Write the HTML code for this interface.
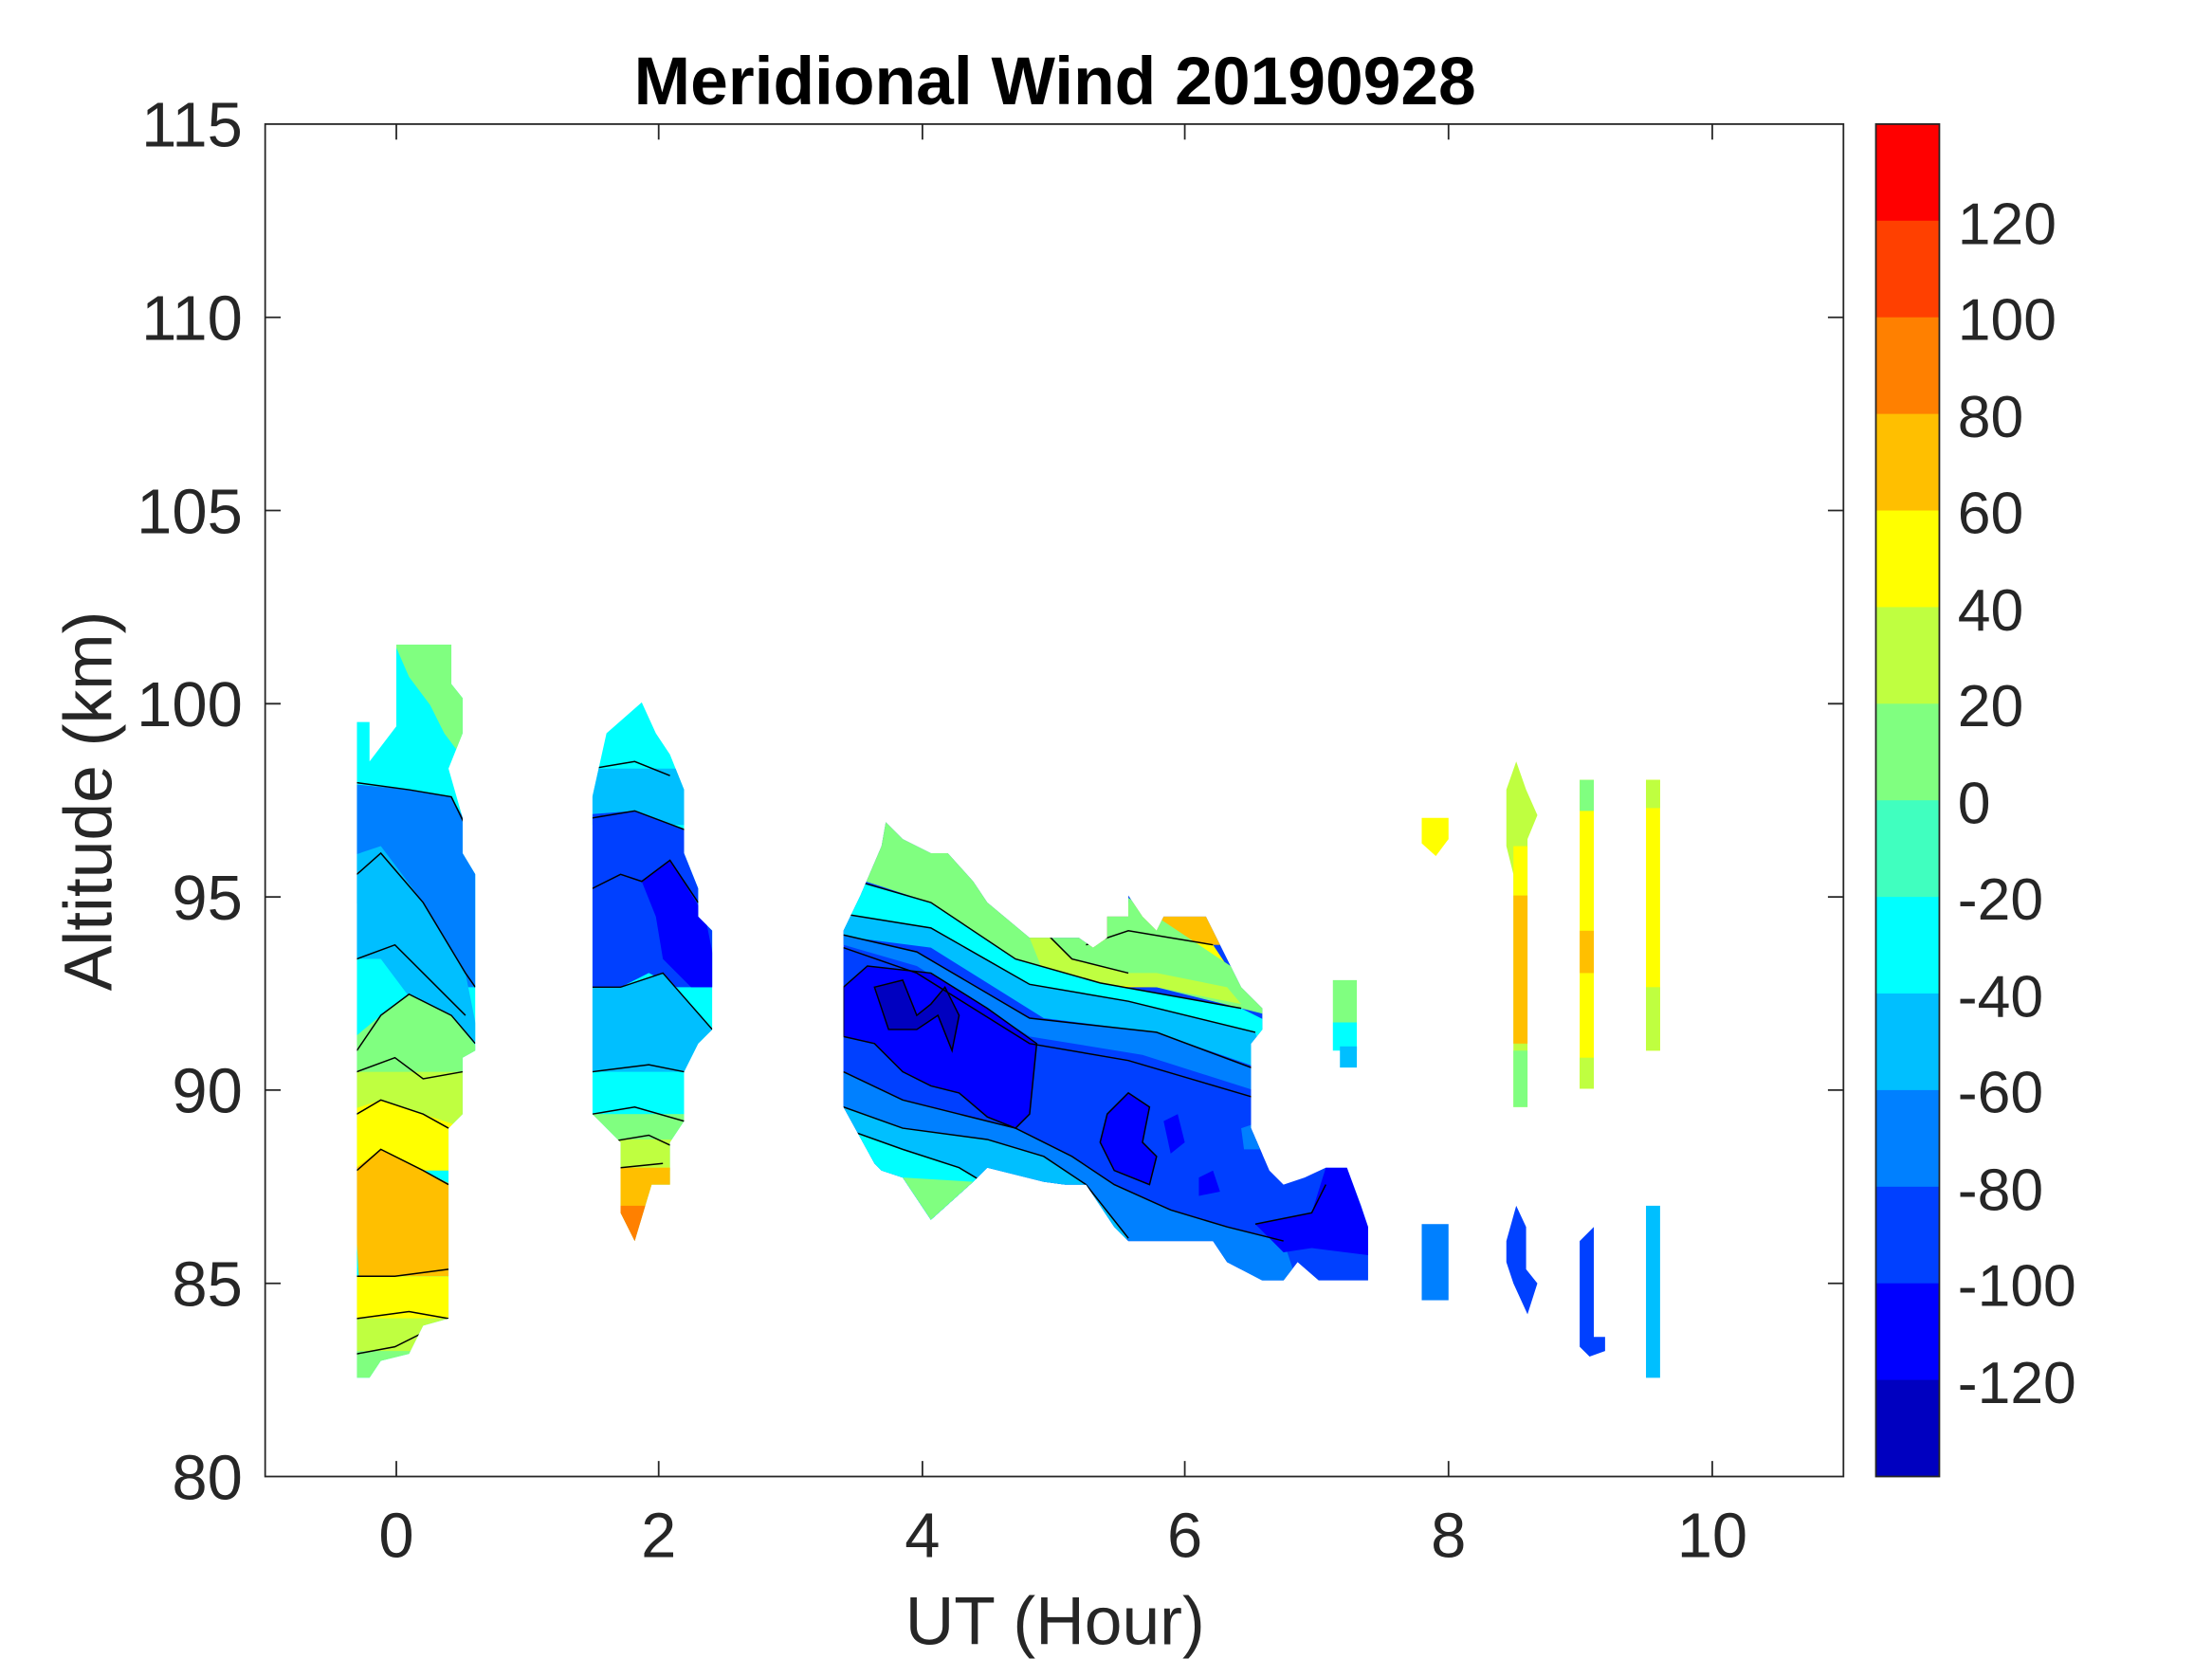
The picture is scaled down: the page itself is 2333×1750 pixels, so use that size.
<!DOCTYPE html>
<html><head><meta charset="utf-8"><style>html,body{margin:0;padding:0;background:#fff}svg{display:block}</style></head>
<body>
<svg width="2333" height="1750" viewBox="0 0 1568.3 1176.4" preserveAspectRatio="none" xmlns="http://www.w3.org/2000/svg" font-family="Liberation Sans, sans-serif">
<defs>
<clipPath id="c1"><polygon points="253,512 262,512 262,540 281,515 281,457 320,457 320,485 328,495 328,520 318,545 328,580 328,605 337,620 337,745 328,750 328,790 318,800 318,935 300,940 290,960 270,965 262,977 253,977"/></clipPath>
<clipPath id="c2"><polygon points="420,565 430,520 455,498 465,520 475,535 485,560 485,605 495,630 495,650 505,660 505,730 495,740 485,760 485,795 475,810 475,840 462,840 450,880 440,860 440,810 430,800 420,790"/></clipPath>
<clipPath id="c3"><polygon points="598,660 610,635 625,600 628,583 640,595 660,605 672,605 690,625 700,640 730,665 765,665 775,672 785,665 785,650 800,650 800,635 810,650 820,660 825,650 855,650 865,670 880,700 895,715 895,730 887,740 887,800 900,830 910,840 925,835 940,828 955,828 965,855 970,870 970,908 935,908 920,895 910,908 895,908 870,895 860,880 800,880 790,870 770,840 755,840 740,838 700,828 690,838 660,865 640,835 625,830 620,825 598,785"/></clipPath>
</defs>
<!-- blob 1 -->
<g clip-path="url(#c1)">
<rect x="240" y="450" width="110" height="540" fill="#00FFFF"/>
<polygon points="280,457 330,457 330,540 315,520 305,500 290,480" fill="#80FF80"/>
<polygon points="240,555 290,560 320,565 340,600 340,700 320,700 290,650 250,640 240,630" fill="#0080FF"/>
<polygon points="240,610 270,600 300,640 330,690 340,740 300,720 270,680 240,680" fill="#00BFFF"/>
<polygon points="240,745 270,720 290,705 320,720 340,745 340,760 240,760" fill="#80FF80"/>
<rect x="240" y="760" width="110" height="40" fill="#BFFF40"/>
<polygon points="240,790 270,780 300,790 330,800 330,830 240,830" fill="#FFFF00"/>
<polygon points="250,830 270,815 300,830 320,840 320,905 280,905 255,915" fill="#FFBF00"/>
<rect x="240" y="905" width="110" height="30" fill="#FFFF00"/>
<rect x="240" y="935" width="110" height="25" fill="#BFFF40"/>
<rect x="240" y="958" width="110" height="30" fill="#80FF80"/>
<g fill="none" stroke="#000" stroke-width="1">
<polyline points="253,555 290,560 320,565 337,600"/><polyline points="253,620 270,605 300,640 330,690 337,700"/>
<polyline points="253,680 280,670 300,690 330,720"/><polyline points="253,745 270,720 290,705 320,720 337,740"/>
<polyline points="253,760 280,750 300,765 328,760"/><polyline points="253,790 270,780 300,790 318,800"/>
<polyline points="253,830 270,815 300,830 318,840"/><polyline points="253,905 280,905 318,900"/>
<polyline points="253,935 290,930 318,935"/><polyline points="253,960 280,955 300,945"/>
</g>
</g>
<!-- blob 2 -->
<g clip-path="url(#c2)">
<rect x="410" y="490" width="100" height="400" fill="#00FFFF"/>
<rect x="410" y="545" width="100" height="40" fill="#00BFFF"/>
<polygon points="410,578 450,575 490,590 510,600 510,700 480,700 460,690 440,700 410,700" fill="#0040FF"/>
<polygon points="455,625 475,610 500,650 510,700 490,700 470,680 465,650" fill="#0000FF"/>
<polygon points="410,700 440,700 470,690 505,730 490,760 440,760 410,760" fill="#00BFFF"/>
<rect x="410" y="790" width="100" height="20" fill="#80FF80"/>
<rect x="410" y="808" width="100" height="22" fill="#BFFF40"/>
<rect x="410" y="828" width="100" height="20" fill="#FFFF00"/>
<rect x="410" y="818" width="100" height="70" fill="#FFBF00" transform="translate(0,10)"/>
<rect x="435" y="855" width="30" height="30" fill="#FF8000"/>
<g fill="none" stroke="#000" stroke-width="1">
<polyline points="420,545 450,540 475,550"/><polyline points="420,580 450,575 490,590"/>
<polyline points="420,630 440,620 455,625 475,610 495,640"/><polyline points="420,700 440,700 470,690 505,730"/>
<polyline points="420,760 460,755 485,760"/><polyline points="420,790 450,785 485,795"/>
<polyline points="430,810 460,805 475,812"/><polyline points="440,828 470,825"/>
</g>
</g>
<!-- blob 3 -->
<g clip-path="url(#c3)">
<rect x="590" y="570" width="400" height="350" fill="#0040FF"/>
<rect x="780" y="640" width="90" height="30" fill="#FFBF00"/>
<polygon points="770,670 800,660 830,665 860,670 880,700 770,700" fill="#FFFF00"/>
<polygon points="590,570 700,570 880,690 900,720 880,715 820,700 770,695 720,680 660,640 598,620" fill="#80FF80"/>
<polygon points="720,640 760,680 800,690 820,690 870,700 880,712 820,700 770,698 740,690" fill="#BFFF40"/>
<polygon points="598,622 660,640 720,680 780,697 880,715 900,725 900,735 890,735 800,712 730,700 660,660 598,650" fill="#00FFFF"/>
<polygon points="598,648 660,658 730,698 800,710 890,732 900,760 820,732 740,722 660,672 598,664" fill="#00BFFF"/>
<polygon points="598,663 650,675 730,722 820,732 895,760 895,775 810,748 730,735 650,685 598,670" fill="#0080FF"/>
<polygon points="598,672 650,690 730,740 800,752 895,780 895,900 598,900" fill="#0040FF"/>
<polygon points="598,700 615,685 660,690 700,715 735,740 730,790 720,800 700,792 680,775 660,770 640,760 620,740 598,735" fill="#0000FF"/>
<polygon points="620,700 640,695 650,720 660,712 670,700 680,720 675,745 665,720 650,730 630,730" fill="#0000C0"/>
<polygon points="785,790 800,775 815,785 810,810 820,820 815,840 790,830 780,810" fill="#0000FF"/>
<polygon points="825,795 835,790 840,810 830,818" fill="#0000FF"/>
<polygon points="598,760 640,780 680,790 720,800 760,820 790,840 830,858 870,870 910,880 920,910 598,910" fill="#0080FF"/>
<polygon points="598,785 640,800 700,808 740,820 770,840 800,878 598,910" fill="#00BFFF"/>
<polygon points="598,800 640,815 680,828 700,840 598,910" fill="#00FFFF"/>
<polygon points="640,835 660,865 690,838" fill="#80FF80"/>
<polygon points="890,868 930,860 940,828 955,828 970,870 970,890 930,885 910,888" fill="#0000FF"/>
<polygon points="850,835 860,830 865,845 850,848" fill="#0000FF"/>
<polygon points="880,800 895,795 895,815 882,815" fill="#0080FF"/>
<g fill="none" stroke="#000" stroke-width="1">
<polyline points="598,622 660,640 720,680 780,697 880,715"/><polyline points="598,648 660,658 730,698 800,710 890,732"/>
<polyline points="598,663 650,675 730,722 820,732 895,760"/><polyline points="598,672 650,690 730,740 800,752 895,780"/>
<polyline points="770,670 800,660 830,665 860,670"/><polyline points="720,640 760,680 800,690"/>
<polygon points="598,700 615,685 660,690 700,715 735,740 730,790 720,800 700,792 680,775 660,770 640,760 620,740 598,735"/>
<polygon points="620,700 640,695 650,720 660,712 670,700 680,720 675,745 665,720 650,730 630,730"/>
<polygon points="785,790 800,775 815,785 810,810 820,820 815,840 790,830 780,810"/>
<polyline points="598,760 640,780 680,790 720,800 760,820 790,840 830,858 870,870 910,880"/>
<polyline points="598,785 640,800 700,808 740,820 770,840 800,878"/><polyline points="598,800 640,815 680,828 700,840"/>
<polyline points="890,868 930,860 940,840"/>
</g>
</g>
<!-- small ones -->
<rect x="945" y="695" width="17" height="30" fill="#80FF80"/><rect x="945" y="725" width="17" height="20" fill="#00FFFF"/><rect x="950" y="742" width="12" height="15" fill="#00BFFF"/>
<polygon points="1008,580 1027,580 1027,595 1018,607 1008,598" fill="#FFFF00"/>
<rect x="1008" y="868" width="19" height="54" fill="#0080FF"/>
<polygon points="1068,560 1075,540 1082,560 1090,578 1083,595 1083,785 1073,785 1073,620 1068,600" fill="#BFFF40"/>
<rect x="1073" y="600" width="10" height="35" fill="#FFFF00"/><rect x="1073" y="635" width="10" height="105" fill="#FFBF00"/><rect x="1073" y="745" width="10" height="40" fill="#80FF80"/>
<polygon points="1068,880 1075,855 1082,870 1082,900 1090,910 1083,932 1073,910 1068,895" fill="#0040FF"/>
<rect x="1120" y="553" width="10" height="219" fill="#FFFF00"/><rect x="1120" y="553" width="10" height="22" fill="#80FF80"/><rect x="1120" y="660" width="10" height="30" fill="#FFBF00"/><rect x="1120" y="750" width="10" height="22" fill="#BFFF40"/>
<polygon points="1120,880 1130,870 1130,948 1138,948 1138,958 1127,962 1120,955" fill="#0040FF"/>
<rect x="1167" y="553" width="10" height="192" fill="#FFFF00"/><rect x="1167" y="553" width="10" height="20" fill="#BFFF40"/><rect x="1167" y="700" width="10" height="45" fill="#BFFF40"/>
<rect x="1167" y="855" width="10" height="122" fill="#00BFFF"/>
<!-- axes -->
<rect x="188" y="88" width="1119" height="959" fill="none" stroke="#262626" stroke-width="1.2"/>
<g stroke="#262626" stroke-width="1.2">
<line x1="281" y1="1047" x2="281" y2="1036"/><line x1="467" y1="1047" x2="467" y2="1036"/><line x1="654" y1="1047" x2="654" y2="1036"/><line x1="840" y1="1047" x2="840" y2="1036"/><line x1="1027" y1="1047" x2="1027" y2="1036"/><line x1="1214" y1="1047" x2="1214" y2="1036"/>
<line x1="281" y1="88" x2="281" y2="99"/><line x1="467" y1="88" x2="467" y2="99"/><line x1="654" y1="88" x2="654" y2="99"/><line x1="840" y1="88" x2="840" y2="99"/><line x1="1027" y1="88" x2="1027" y2="99"/><line x1="1214" y1="88" x2="1214" y2="99"/>
<line x1="188" y1="225" x2="199" y2="225"/><line x1="188" y1="362" x2="199" y2="362"/><line x1="188" y1="499" x2="199" y2="499"/><line x1="188" y1="636" x2="199" y2="636"/><line x1="188" y1="773" x2="199" y2="773"/><line x1="188" y1="910" x2="199" y2="910"/>
<line x1="1307" y1="225" x2="1296" y2="225"/><line x1="1307" y1="362" x2="1296" y2="362"/><line x1="1307" y1="499" x2="1296" y2="499"/><line x1="1307" y1="636" x2="1296" y2="636"/><line x1="1307" y1="773" x2="1296" y2="773"/><line x1="1307" y1="910" x2="1296" y2="910"/>
</g>
<g font-size="45" fill="#262626" text-anchor="middle">
<text x="281" y="1104">0</text><text x="467" y="1104">2</text><text x="654" y="1104">4</text><text x="840" y="1104">6</text><text x="1027" y="1104">8</text><text x="1214" y="1104">10</text>
</g>
<g font-size="45" fill="#262626" text-anchor="end">
<text x="172" y="104">115</text><text x="172" y="241">110</text><text x="172" y="378">105</text><text x="172" y="515">100</text><text x="172" y="652">95</text><text x="172" y="789">90</text><text x="172" y="926">85</text><text x="172" y="1063">80</text>
</g>
<text x="748" y="1166" font-size="48" fill="#262626" text-anchor="middle">UT (Hour)</text>
<text transform="translate(79,568) rotate(-90)" font-size="48" fill="#262626" text-anchor="middle">Altitude (km)</text>
<text x="748" y="74" font-size="48" font-weight="bold" fill="#000" text-anchor="middle">Meridional Wind 20190928</text>
<!-- colorbar -->
<g>
<rect x="1330" y="88" width="45" height="69" fill="#FF0000"/>
<rect x="1330" y="156.5" width="45" height="69" fill="#FF4000"/>
<rect x="1330" y="225" width="45" height="69" fill="#FF8000"/>
<rect x="1330" y="293.5" width="45" height="69" fill="#FFBF00"/>
<rect x="1330" y="362" width="45" height="69" fill="#FFFF00"/>
<rect x="1330" y="430.5" width="45" height="69" fill="#BFFF40"/>
<rect x="1330" y="499" width="45" height="69" fill="#80FF80"/>
<rect x="1330" y="567.5" width="45" height="69" fill="#40FFBF"/>
<rect x="1330" y="636" width="45" height="69" fill="#00FFFF"/>
<rect x="1330" y="704.5" width="45" height="69" fill="#00BFFF"/>
<rect x="1330" y="773" width="45" height="69" fill="#0080FF"/>
<rect x="1330" y="841.5" width="45" height="69" fill="#0040FF"/>
<rect x="1330" y="910" width="45" height="69" fill="#0000FF"/>
<rect x="1330" y="978.5" width="45" height="68.5" fill="#0000C0"/>
<rect x="1330" y="88" width="45" height="959" fill="none" stroke="#262626" stroke-width="1.2"/>
</g>
<g font-size="42" fill="#262626">
<text x="1388" y="173">120</text><text x="1388" y="241">100</text><text x="1388" y="310">80</text><text x="1388" y="378">60</text><text x="1388" y="447">40</text><text x="1388" y="515">20</text><text x="1388" y="584">0</text><text x="1388" y="652">-20</text><text x="1388" y="721">-40</text><text x="1388" y="789">-60</text><text x="1388" y="858">-80</text><text x="1388" y="926">-100</text><text x="1388" y="995">-120</text>
</g>
</svg>
</body></html>
